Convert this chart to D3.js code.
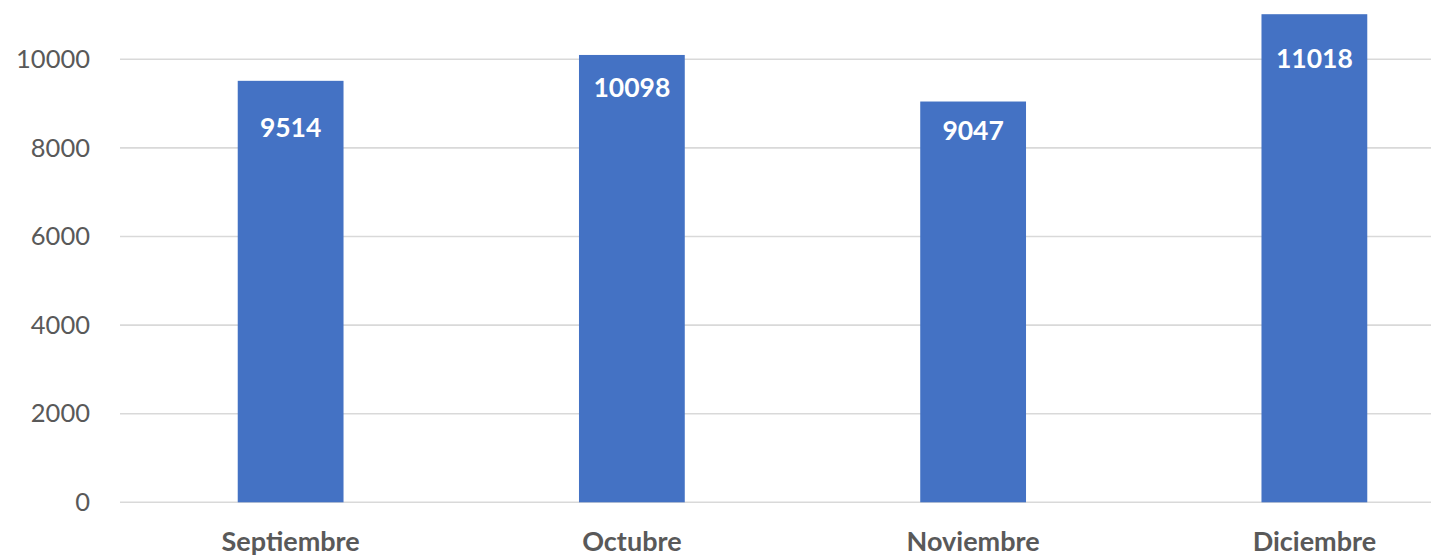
<!DOCTYPE html>
<html>
<head>
<meta charset="utf-8">
<script src="https://cdn.jsdelivr.net/npm/d3@7"></script>
<style>
  html, body { margin: 0; padding: 0; background: #ffffff; overflow: hidden; }
  svg { display: block; }
</style>
</head>
<body>
<svg id="chart" width="1431" height="555"></svg>
<script>
// Monthly totals
const categories = ["Septiembre", "Octubre", "Noviembre", "Diciembre"];
const values = [9514, 10098, 9047, 11018];
const yTicks = [0, 2000, 4000, 6000, 8000, 10000];

// Distance (px) from each bar's top to its value label baseline
const labelDrop = [56, 42, 38, 54];

const plot = { left: 120, right: 1485, top: 14, bottom: 502.3 };

const svg = d3.select("#chart");

const x = d3.scaleBand()
  .domain(categories)
  .range([plot.left, plot.right])
  .paddingInner(0)
  .paddingOuter(0);

const y = d3.scaleLinear()
  .domain([0, 10000])
  .range([plot.bottom, 59.3]);

const barW = x.bandwidth() * 0.31;

// Horizontal gridlines
svg.append("g")
  .selectAll("line")
  .data(yTicks)
  .join("line")
  .attr("x1", plot.left)
  .attr("x2", plot.right)
  .attr("y1", d => y(d))
  .attr("y2", d => y(d))
  .attr("stroke", "#d9d9d9")
  .attr("stroke-width", 1.6);

// Y axis labels
const yAxis = svg.append("g")
  .attr("transform", `translate(${plot.left},0)`)
  .call(d3.axisLeft(y).tickValues(yTicks).tickSize(0).tickPadding(30).tickFormat(d3.format("d")));
yAxis.select(".domain").remove();
yAxis.selectAll("text")
  .attr("fill", "#595959")
  .style("font-family", "Lato, 'Open Sans', sans-serif")
  .style("font-size", "25.5px");

// Bars
svg.append("g")
  .selectAll("rect")
  .data(values)
  .join("rect")
  .attr("x", (d, i) => x(categories[i]) + (x.bandwidth() - barW) / 2)
  .attr("y", d => y(d))
  .attr("width", barW)
  .attr("height", d => y(0) - y(d))
  .attr("fill", "#4472c4");

// Value labels inside bars
svg.append("g")
  .selectAll("text")
  .data(values)
  .join("text")
  .attr("x", (d, i) => x(categories[i]) + x.bandwidth() / 2)
  .attr("y", (d, i) => y(d) + labelDrop[i])
  .attr("text-anchor", "middle")
  .attr("fill", "#ffffff")
  .style("font-family", "Lato, 'Open Sans', sans-serif")
  .style("font-weight", "700")
  .style("font-size", "26.5px")
  .text(d => d);

// Category labels
const xAxis = svg.append("g")
  .attr("transform", `translate(0,${plot.bottom})`)
  .call(d3.axisBottom(x).tickSize(0).tickPadding(0));
xAxis.select(".domain").remove();
xAxis.selectAll("text")
  .attr("dy", null)
  .attr("y", 49)
  .attr("fill", "#595959")
  .style("font-family", "Lato, 'Open Sans', sans-serif")
  .style("font-weight", "700")
  .style("font-size", "27px");
</script>
</body>
</html>
